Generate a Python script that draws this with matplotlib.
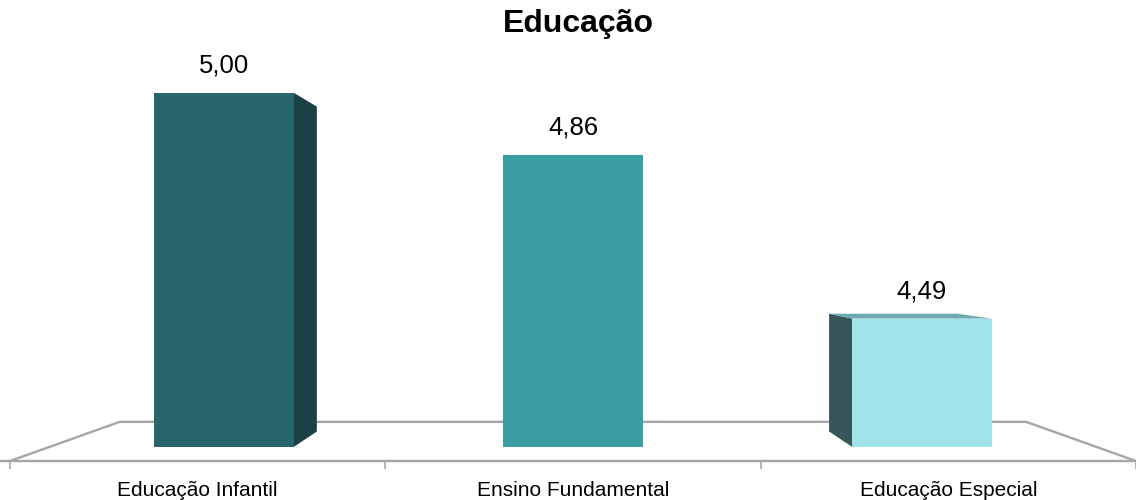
import numpy as np
import matplotlib
matplotlib.use('Agg')
import matplotlib.pyplot as plt
from matplotlib.patches import Polygon

plt.rcParams['font.family'] = ['Liberation Sans', 'DejaVu Sans']

# data
categories = ["Educação Infantil", "Ensino Fundamental", "Educação Especial"]
values = [5.00, 4.86, 4.49]
value_labels = ["5,00", "4,86", "4,49"]
title = "Educação"

front_colors = ["#27666b", "#3a9ea5", "#a0e4ea"]
side_colors = ["#1a4143", "#2d7e84", "#385659"]
top_colors = ["#3e8085", "#5cb3b9", "#6aa9ae"]
LINE = "#a6a6a6"

# perspective setup (world units: x = category, y = value)
BASE = 4.2            # floor level
XC, YV = 1.0, 4.622   # vanishing point
S_FRONT, S_BACK = 0.93, 0.853    # bar front / back depth scale
S_FLOOR = 0.805                  # floor back depth scale
HALF_W = 0.2

def proj(x, y, s):
    return XC + (x - XC) * s, YV + (y - YV) * s

fig = plt.figure(figsize=(11.36, 5.0), dpi=100)
ax = fig.add_axes([0, 0, 1, 1])
ax.set_xlim(-0.5 - 10 / 375.3, -0.5 + 1126 / 375.3)
ax.set_ylim(BASE - 39 / 476, BASE + 461 / 476)

# floor (front edge is the axis spine)
n = len(categories)
fl = [proj(-0.5, BASE, 1), proj(-0.5, BASE, S_FLOOR),
      proj(n - 0.5, BASE, S_FLOOR), proj(n - 0.5, BASE, 1)]
ax.plot([p[0] for p in fl], [p[1] for p in fl], color=LINE, lw=1.7,
        solid_joinstyle='miter', zorder=1)

# bars
for i, v in enumerate(values):
    xl, xr = i - HALF_W, i + HALF_W
    # side face
    if i < XC:
        xs = xr
    elif i > XC:
        xs = xl
    else:
        xs = None
    if xs is not None:
        pts = [proj(xs, BASE, S_FRONT), proj(xs, v, S_FRONT),
               proj(xs, v, S_BACK), proj(xs, BASE, S_BACK)]
        ax.add_patch(Polygon(pts, closed=True, facecolor=side_colors[i],
                             edgecolor='none', zorder=2))
    # top face (visible only below eye level)
    if v < YV:
        pts = [proj(xl, v, S_FRONT), proj(xr, v, S_FRONT),
               proj(xr, v, S_BACK), proj(xl, v, S_BACK)]
        ax.add_patch(Polygon(pts, closed=True, facecolor=top_colors[i],
                             edgecolor='none', zorder=2))
    # front face
    cx, by = proj(i, BASE, S_FRONT)
    _, ty = proj(i, v, S_FRONT)
    ax.bar(cx, ty - by, bottom=by, width=2 * HALF_W * S_FRONT,
           color=front_colors[i], edgecolor='none', zorder=3)
    ax.annotate(value_labels[i], xy=(cx, ty), xytext=(0, 19.5),
                textcoords='offset points', ha='center', va='center',
                fontsize=18.5, color='black', zorder=4)

# axis: front floor edge with ticks and category labels
for side in ['top', 'left', 'right']:
    ax.spines[side].set_visible(False)
ax.spines['bottom'].set_position(('data', BASE))
ax.spines['bottom'].set_color(LINE)
ax.spines['bottom'].set_linewidth(1.7)
ax.set_yticks([])
ax.set_xticks(np.arange(n + 1) - 0.5)
ax.set_xticklabels([])
ax.tick_params(axis='x', which='major', direction='out', length=6,
               width=1.2, color=LINE)
ax.set_xticks(np.arange(n), minor=True)
ax.set_xticklabels(categories, minor=True)
ax.tick_params(axis='x', which='minor', length=0, pad=14.5, labelsize=15)
ax.patch.set_alpha(0)

fig.text(578 / 1136, 1 - 24 / 500, title, ha='center', va='center',
         fontsize=23, fontweight='bold')

fig.savefig("out.png", dpi=100, facecolor='white')
